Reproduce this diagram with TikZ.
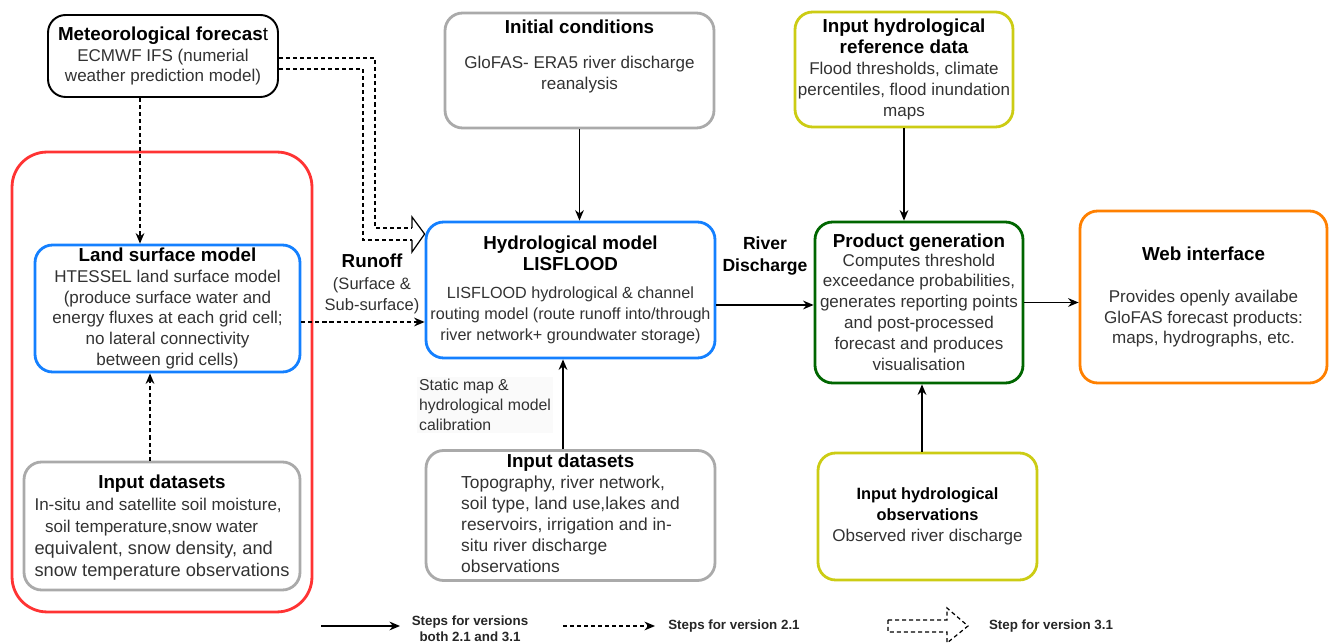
\documentclass[tikz,border=0pt]{standalone}
\usepackage{fontspec}
\setmainfont{Liberation Sans}
\usepackage{tikz}
\usepackage{xcolor}
\usetikzlibrary{arrows.meta}

\definecolor{boxred}{RGB}{255,51,51}
\definecolor{boxblue}{RGB}{20,128,255}
\definecolor{boxgray}{RGB}{170,170,170}
\definecolor{boxyellow}{RGB}{204,204,20}
\definecolor{boxgreen}{RGB}{0,102,0}
\definecolor{boxorange}{RGB}{255,128,0}
\definecolor{bodytext}{RGB}{50,50,50}

\newcommand{\ttl}[1]{{\fontsize{10.7}{13}\selectfont\bfseries\color{black}#1}}
\newcommand{\obsttl}[1]{{\fontsize{9.3}{11.5}\selectfont\bfseries\color{black}#1}}
\newcommand{\hyd}[1]{{\fontsize{9.2}{11.3}\selectfont #1}}
\newcommand{\bodyfont}{\fontsize{9.7}{11.9}\selectfont}

\begin{document}
\begin{tikzpicture}[x=0.02cm, y=-0.02cm,
    box/.style={draw, line width=1.6pt, rounded corners=10pt, align=center, inner sep=1pt, font=\bodyfont, text=bodytext},
    flow/.style={line width=0.8pt, -{Stealth[length=6pt,width=5pt]}},
    ver21/.style={flow, dash pattern=on 2.3pt off 1.7pt},
    ver31/.style={line width=0.7pt, dash pattern=on 2.3pt off 1.7pt},
    legend/.style={align=center, font=\fontsize{7.6}{9}\selectfont\bfseries, text=black!85}]

        \useasboundingbox (0,0) rectangle (1330,644);

        % Draw the boxes
        \node[box, draw=black, line width=1.1pt, minimum width=4.6cm, minimum height=1.64cm] (met) at (163,56)
            {\ttl{Meteorological forecas}{\fontsize{10.7}{13}\selectfont\color{black}t}\\ ECMWF IFS (numerial\\ weather prediction model)};

        \node[draw=boxred, line width=1.6pt, rounded corners=0.7cm, minimum width=6cm, minimum height=9.2cm] (group) at (162,382) {};

        \node[box, draw=boxblue, minimum width=5.3cm, minimum height=2.54cm] (lsm) at (167.5,308.5)
            {\ttl{Land surface model}\\ HTESSEL land surface model\\ (produce surface water and\\ energy fluxes at each grid cell;\\ no lateral connectivity\\ between grid cells)};

        \node[box, draw=boxgray, minimum width=5.52cm, minimum height=2.56cm] (dataL) at (162,526)
            {\renewcommand{\arraystretch}{1.05}\begin{tabular}{@{}l@{}}
             \multicolumn{1}{@{}c@{}}{\ttl{Input datasets}}\\
             In-situ and satellite soil moisture,\\
             \hspace*{6pt}soil temperature,snow water\\
             {\fontsize{10.4}{12.5}\selectfont equivalent, snow density, and}\\
             {\fontsize{10.4}{12.5}\selectfont snow temperature observations}\\[-2pt]
             \end{tabular}};

        \node[box, draw=boxgray, minimum width=5.38cm, minimum height=2.3cm] (init) at (579.5,70.5) {};
        \node[align=center, font=\bodyfont, text=bodytext, anchor=north] (inittext) at (579.5,14)
            {\ttl{Initial conditions}\\[8pt] GloFAS- ERA5 river discharge\\ reanalysis};

        \node[box, draw=boxblue, minimum width=5.78cm, minimum height=2.72cm] (hydro) at (570.5,290)
            {\ttl{Hydrological model}\\ \ttl{LISFLOOD}\\[4pt] \hyd{LISFLOOD hydrological \& channel}\\ \hyd{routing model (route runoff into/through}\\ \hyd{river network+ groundwater storage)}};

        \node[box, draw=boxgray, minimum width=5.78cm, minimum height=2.5cm] (dataM) at (570.5,515.5)
            {\fontsize{9.9}{12}\selectfont\begin{tabular}{@{}l@{}}
             \multicolumn{1}{@{}c@{}}{\ttl{Input datasets}}\\
             Topography, river network,\\
             soil type, land use,lakes and\\
             reservoirs, irrigation and in-\\
             situ river discharge\\
             observations
             \end{tabular}};

        \node[align=left, font=\fontsize{9}{11.4}\selectfont, text=bodytext, fill=black!2, anchor=north west, inner sep=1pt] (calib) at (417,377)
            {Static map \&\\ hydrological model\\ calibration};

        \node[box, draw=boxyellow, minimum width=4.36cm, minimum height=2.3cm] (ref) at (904,69.5)
            {\ttl{Input hydrological}\\ \ttl{reference data}\\ Flood thresholds, climate\\ percentiles, flood inundation\\ maps};

        \node[box, draw=boxgreen, minimum width=4.16cm, minimum height=3.22cm] (prod) at (919,302.5)
            {\ttl{Product generation}\\[-1.5pt] Computes threshold\\ exceedance probabilities,\\ generates reporting points\\ and post-processed\\ forecast and produces\\ visualisation};

        \node[box, draw=boxorange, minimum width=4.94cm, minimum height=3.44cm] (web) at (1203.5,297)
            {\ttl{Web interface}\\[12pt] Provides openly availabe\\ GloFAS forecast products:\\ maps, hydrographs, etc.};

        \node[box, draw=boxyellow, minimum width=4.38cm, minimum height=2.54cm] (obs) at (927.5,516.5)
            {\obsttl{Input hydrological}\\ \obsttl{observations}\\ Observed river discharge};

        % Draw the connectors
        \draw[ver21] ([xshift=-0.46cm]met.south) -- ([xshift=-0.46cm]met.south |- lsm.north);
        \draw[ver21] ([xshift=-0.24cm]dataL.north) -- ([xshift=-0.24cm]dataL.north |- lsm.south);
        \draw[ver21] ([yshift=-0.27cm]lsm.east) -- ([yshift=-0.27cm]lsm.east -| hydro.west);
        \node[align=center, font=\fontsize{9.4}{11.9}\selectfont, text=bodytext] (runoff) at (372,284)
            {\ttl{Runoff}\\[1pt] (Surface \&\\ Sub-surface)};

        \draw[flow] (init.south) -- (init.south |- hydro.north);
        \draw[flow] ([xshift=-0.15cm]dataM.north) -- ([xshift=-0.15cm]dataM.north |- hydro.south);
        \draw[flow] ([yshift=-0.3cm]hydro.east) -- ([yshift=-0.3cm]hydro.east -| prod.west);
        \node[align=center, font=\fontsize{10}{12.5}\selectfont\bfseries] (rivq) at (765,256) {River\\ Discharge};

        \draw[flow] (ref.south) -- (ref.south |- prod.north);
        \draw[flow] ([xshift=-0.11cm]obs.north) -- ([xshift=-0.11cm]obs.north |- prod.south);
        \draw[flow] (prod.east) -- (prod.east -| web.west);

        % Draw the hollow arrow (version 3.1)
        \coordinate (headtop) at (412,228);
        \coordinate (headbot) at (412,240);
        \coordinate (tip) at ([yshift=1.12cm]hydro.west);
        \draw[ver31] ([yshift=-0.04cm]met.east) -| ([xshift=-0.74cm]headtop) -- (headtop);
        \draw[ver31] ([yshift=-0.26cm]met.east) -| ([xshift=-0.98cm]headbot) -- (headbot);
        \draw[line width=0.7pt] (headtop) -- ++(0,-11) -- (tip) -- (412,252) -- (headbot);

        % Draw the legend
        \coordinate (l1a) at (321,626);
        \coordinate (l1b) at (400,626);
        \draw[flow] (l1a) -- (l1b);
        \node[legend] (l1) at (470,629) {Steps for versions\\ both 2.1 and 3.1};

        \coordinate (l2a) at (563,626);
        \coordinate (l2b) at (655,626);
        \draw[ver21] (l2a) -- (l2b);
        \node[legend] (l2) at (734,626) {Steps for version 2.1};

        \draw[ver31] (888,620) -- (947,620) -- (947,608) -- (968,626) -- (947,643) -- (947,632) -- (888,632) -- cycle;
        \node[legend] (l3) at (1051,626) {Step for version 3.1};

        \end{tikzpicture}
\end{document}
